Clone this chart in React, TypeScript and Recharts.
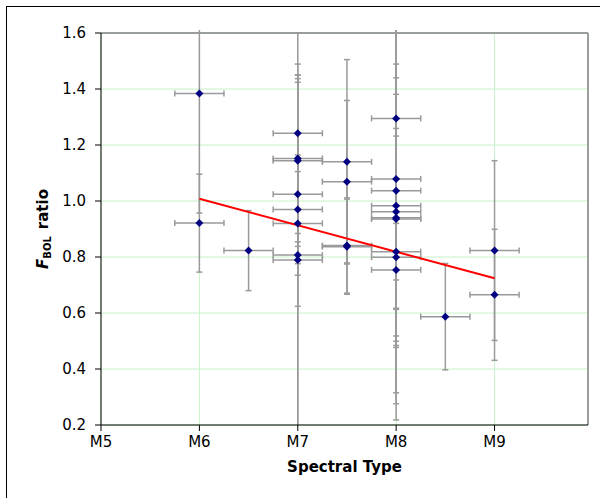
import {
  ScatterChart,
  Scatter,
  XAxis,
  YAxis,
  CartesianGrid,
  ErrorBar,
  ReferenceLine,
} from "recharts";

// spectral subtype (M5 = 5 ... M9 = 9) for each star
const spectralType = [
  6, 6, 6.5, 7, 7, 7, 7, 7, 7, 7, 7, 7.5, 7.5, 7.5, 7.5, 8, 8, 8, 8, 8, 8, 8, 8, 8, 8, 8.5, 9, 9,
];
const fbolRatio = [
  1.384, 0.921, 0.823, 1.242, 1.152, 1.144, 1.024, 0.97, 0.92, 0.807, 0.789, 1.14, 1.069, 0.841,
  0.837, 1.295, 1.079, 1.037, 0.983, 0.962, 0.94, 0.936, 0.819, 0.799, 0.754, 0.587, 0.823, 0.665,
];
const ratioError = [
  0.427, 0.175, 0.143, 0.358, 0.298, 0.306, 0.4, 0.194, 0.185, 0.63, 0.7, 0.365, 0.29, 0.17, 0.17,
  0.678, 0.861, 0.722, 0.506, 0.478, 0.441, 0.323, 0.101, 0.281, 0.478, 0.19, 0.321, 0.234,
];
const typeError = [
  0.25, 0.25, 0.25, 0.25, 0.25, 0.25, 0.25, 0.25, 0.25, 0.25, 0.25, 0.25, 0.25, 0.25, 0.25, 0.25,
  0.25, 0.25, 0.25, 0.25, 0.25, 0.25, 0.25, 0.25, 0.25, 0.25, 0.25, 0.25,
];

// linear fit
const trendType = [6, 9];
const trendRatio = [1.008, 0.724];

const xTicks = [5, 6, 7, 8, 9];
const yTicks = [0.2, 0.4, 0.6, 0.8, 1.0, 1.2, 1.4, 1.6];

const stars = spectralType.map((t, i) => ({
  type: t,
  ratio: fbolRatio[i],
  ey: ratioError[i],
  ex: typeError[i],
}));

const FONT = "'DejaVu Sans', Verdana, sans-serif";

const Diamond = (props: any) => {
  const { cx, cy } = props;
  const r = 4;
  return (
    <path
      d={`M${cx},${cy - r}L${cx + r},${cy}L${cx},${cy + r}L${cx - r},${cy}Z`}
      fill="#000080"
    />
  );
};

const YTitle = (props: any) => {
  const { viewBox } = props;
  const cx = viewBox.x + 43;
  const cy = viewBox.y + viewBox.height / 2;
  return (
    <text
      x={cx}
      y={cy}
      transform={`rotate(-90, ${cx}, ${cy})`}
      textAnchor="middle"
      dominantBaseline="central"
      fontFamily={FONT}
      fontWeight="bold"
      fontSize={15}
      fill="#000"
    >
      <tspan fontStyle="italic">F</tspan>
      <tspan fontSize={10} dy={4}>
        BOL
      </tspan>
      <tspan dy={-4} dx={7}>
        ratio
      </tspan>
    </text>
  );
};

const XTitle = (props: any) => {
  const { viewBox } = props;
  return (
    <text
      x={viewBox.x + viewBox.width / 2}
      y={472}
      textAnchor="middle"
      fontFamily={FONT}
      fontWeight="bold"
      fontSize={15}
      fill="#000"
    >
      Spectral Type
    </text>
  );
};

export default function App() {
  return (
    <div
      style={{
        position: "fixed",
        left: 0,
        top: 0,
        width: 600,
        height: 498,
        background: "#fff",
        overflow: "hidden",
      }}
    >
      {/* clip for the error bars, plot area plus a small overshoot at the top */}
      <svg width={0} height={0} style={{ position: "absolute" }}>
        <defs>
          <clipPath id="plotClip" clipPathUnits="userSpaceOnUse">
            <rect x={101} y={30} width={487} height={395} />
          </clipPath>
        </defs>
      </svg>
      <style>{".recharts-errorBars, .recharts-errorBar { clip-path: url(#plotClip); }"}</style>
      <div
        style={{
          position: "absolute",
          left: 6,
          top: 6,
          width: 700,
          height: 700,
          borderLeft: "1px solid #000",
          borderTop: "1px solid #000",
        }}
      />
      <div style={{ position: "absolute", left: 0, top: 0 }}>
        <ScatterChart
          width={600}
          height={498}
          margin={{ top: 33, right: 12, left: 0, bottom: 23 }}
        >
          <CartesianGrid stroke="#c8f2c8" strokeWidth={1} />
          <XAxis
            type="number"
            dataKey="type"
            domain={[5, 9.95]}
            ticks={xTicks}
            tickFormatter={(v: number) => `M${v}`}
            allowDataOverflow
            height={50}
            stroke="#000"
            tickSize={6}
            tickMargin={5}
            tick={{ fill: "#000", fontSize: 15, fontFamily: FONT }}
            label={XTitle}
          />
          <YAxis
            type="number"
            dataKey="ratio"
            domain={[0.2, 1.6]}
            ticks={yTicks}
            tickFormatter={(v: number) => v.toFixed(1)}
            allowDataOverflow
            width={101}
            stroke="#000"
            tickSize={6}
            tickMargin={9}
            tick={{ fill: "#000", fontSize: 15, fontFamily: FONT }}
            label={YTitle}
          />
          <ReferenceLine y={1.6} stroke="#808080" strokeWidth={1.5} />
          <ReferenceLine x={9.95} stroke="#808080" strokeWidth={1.5} />
          <Scatter data={stars} shape={Diamond} isAnimationActive={false}>
            <ErrorBar
              dataKey="ey"
              direction="y"
              width={3}
              stroke="#9a9a9a"
              strokeWidth={1.5}
              isAnimationActive={false}
            />
            <ErrorBar
              dataKey="ex"
              direction="x"
              width={3}
              stroke="#9a9a9a"
              strokeWidth={1.5}
              isAnimationActive={false}
            />
          </Scatter>
          <ReferenceLine
            segment={[
              { x: trendType[0], y: trendRatio[0] },
              { x: trendType[1], y: trendRatio[1] },
            ]}
            stroke="#ff0000"
            strokeWidth={2}
          />
        </ScatterChart>
      </div>
    </div>
  );
}
